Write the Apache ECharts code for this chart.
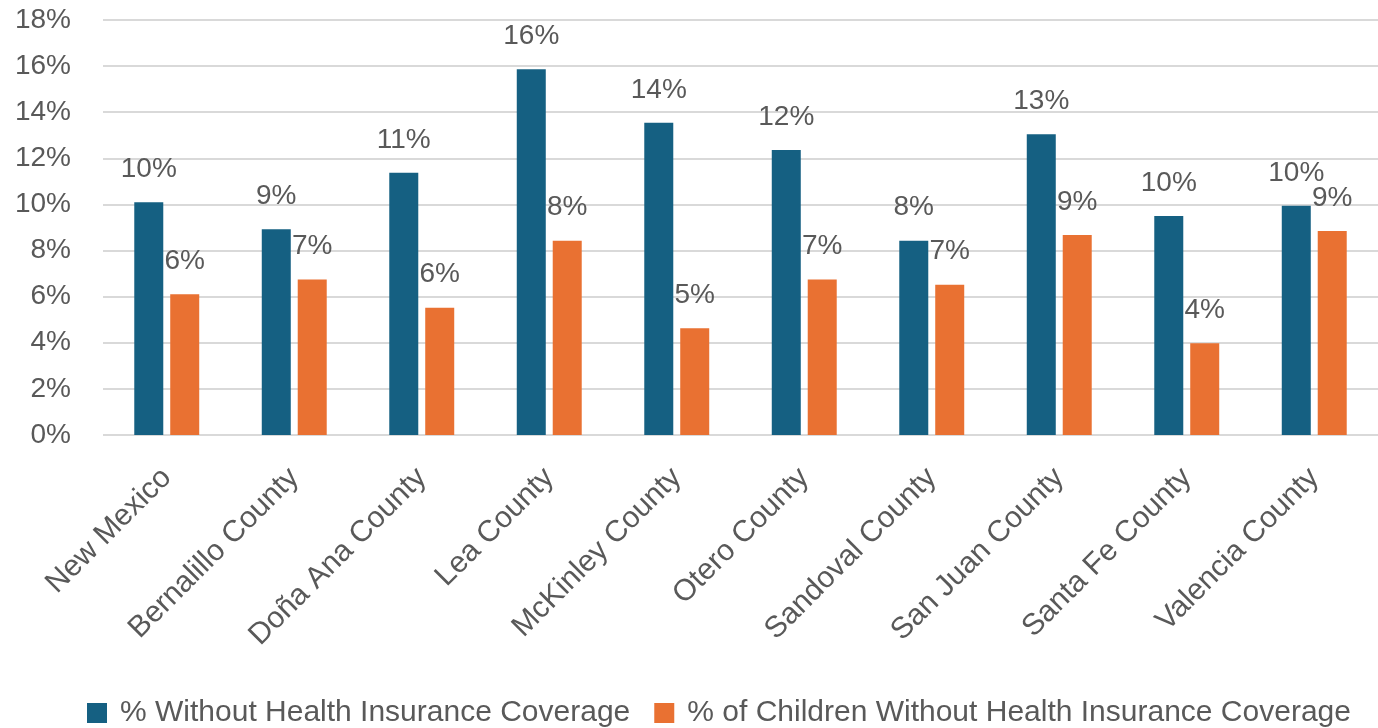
<!DOCTYPE html>
<html>
<head>
<meta charset="utf-8">
<script src="https://cdn.jsdelivr.net/npm/echarts@6/dist/echarts.min.js"></script>
<style>
html,body{margin:0;padding:0;background:#fff;}
#chart{width:1378px;height:728px;}
</style>
</head>
<body>
<div id="chart"></div>
<script>
var categories = ["New Mexico","Bernalillo County","Doña Ana County","Lea County","McKinley County","Otero County","Sandoval County","San Juan County","Santa Fe County","Valencia County"];
var seriesNames = ["% Without Health Insurance Coverage","% of Children Without Health Insurance Coverage"];
var withoutCoverage = [10.1, 8.92, 11.37, 15.86, 13.54, 12.36, 8.43, 13.05, 9.5, 9.94];
var childrenWithoutCoverage = [6.11, 6.75, 5.52, 8.43, 4.63, 6.75, 6.52, 8.67, 3.98, 8.85];
var yTicks = {min: 0, max: 18, interval: 2};

var chart = echarts.init(document.getElementById('chart'));
var textColor = '#595959';
var baseFont = 'Liberation Sans, Arial, sans-serif';
function lbl(){
  return {
    show: true, position: 'top', distance: 19,
    color: textColor, fontSize: 28, fontFamily: baseFont,
    formatter: function(p){ return Math.round(p.value) + '%'; }
  };
}
chart.setOption({
  animation: false,
  backgroundColor: '#ffffff',
  grid: {left: 103, right: 0, top: 20, bottom: 293, containLabel: false},
  legend: {
    data: seriesNames,
    left: 82, top: 693,
    itemWidth: 20, itemHeight: 20, itemGap: 24,
    icon: 'rect',
    textStyle: {color: textColor, fontSize: 30, fontFamily: baseFont, padding: [0,0,0,8]}
  },
  xAxis: {
    type: 'category', data: categories, boundaryGap: true,
    axisLine: {show: false}, axisTick: {show: false},
    axisLabel: {rotate: 45, margin: 38, color: textColor, fontSize: 30, fontFamily: baseFont, interval: 0}
  },
  yAxis: {
    type: 'value', min: yTicks.min, max: yTicks.max, interval: yTicks.interval,
    axisLine: {show: false}, axisTick: {show: false},
    axisLabel: {margin: 32, color: textColor, fontSize: 28, fontFamily: baseFont, formatter: '{value}%'},
    splitLine: {lineStyle: {color: '#d9d9d9', width: 2}}
  },
  series: [
    {name: seriesNames[0], type: 'bar', data: withoutCoverage, barWidth: 29, barGap: '24%', itemStyle: {color: '#156082'}, label: lbl()},
    {name: seriesNames[1], type: 'bar', data: childrenWithoutCoverage, barWidth: 29, itemStyle: {color: '#E97132'}, label: lbl()}
  ]
});
</script>
</body>
</html>
